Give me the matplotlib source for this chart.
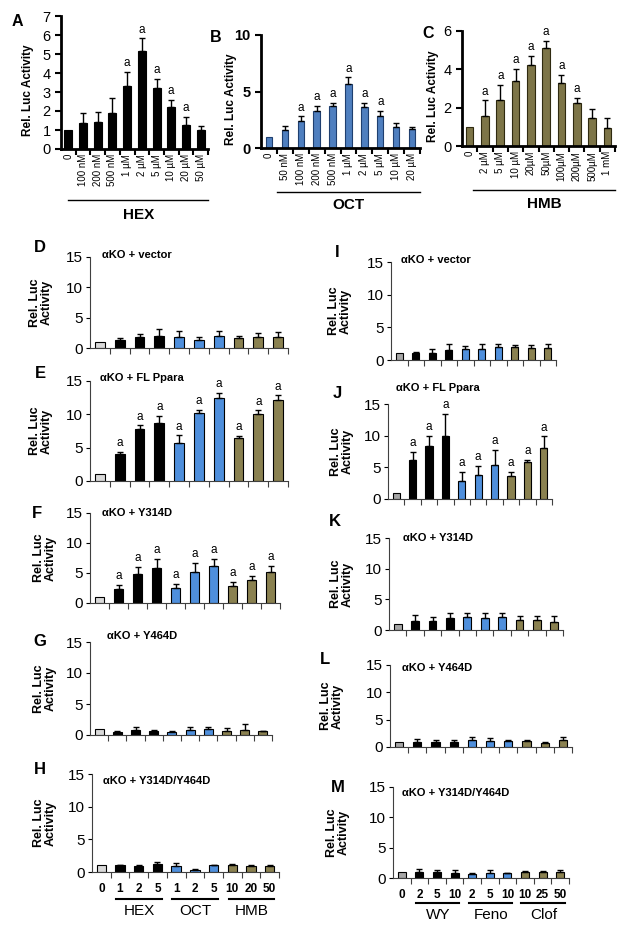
import numpy as np
import matplotlib
matplotlib.use('Agg')
import matplotlib.pyplot as plt

plt.rcParams['font.family'] = ['Liberation Sans', 'DejaVu Sans']

W, H = 629, 935

# ---- top row: dose response ----
hex_doses = ['0', '100 nM', '200 nM', '500 nM', '1 µM', '2 µM', '5 µM', '10 µM', '20 µM', '50 µM']
hex_vals = [1.0, 1.35, 1.44, 1.88, 3.32, 5.18, 3.23, 2.19, 1.26, 1.0]
hex_err = [0, 0.53, 0.49, 0.79, 0.75, 0.64, 0.44, 0.39, 0.44, 0.23]
hex_sig = [4, 5, 6, 7, 8]

oct_doses = ['0', '50 nM', '100 nM', '200 nM', '500 nM', '1 µM', '2 µM', '5 µM', '10 µM', '20 µM']
oct_vals = [1.0, 1.6, 2.35, 3.3, 3.7, 5.65, 3.6, 2.8, 1.85, 1.7]
oct_err = [0, 0.37, 0.45, 0.4, 0.3, 0.6, 0.4, 0.5, 0.35, 0.2]
oct_sig = [2, 3, 4, 5, 6, 7]

hmb_doses = ['0', '2 µM', '5 µM', '10 µM', '20µM', '50µM', '100µM', '200µM', '500µM', '1 mM']
hmb_vals = [1.0, 1.55, 2.38, 3.37, 4.24, 5.13, 3.29, 2.24, 1.46, 0.94]
hmb_err = [0, 0.83, 0.79, 0.66, 0.47, 0.35, 0.43, 0.28, 0.45, 0.54]
hmb_sig = [1, 2, 3, 4, 5, 6, 7]

# ---- left column: HEX / OCT / HMB on mutants ----
left_ticks = ['0', '1', '2', '5', '1', '2', '5', '10', '20', '50']
left_groups = ['HEX', 'OCT', 'HMB']
d_vals = [1.0, 1.37, 1.8, 1.98, 1.8, 1.37, 1.98, 1.6, 1.8, 1.8]
d_err = [0, 0.33, 0.56, 1.1, 1.0, 0.43, 0.77, 0.38, 0.7, 0.8]
e_vals = [1.0, 4.1, 7.85, 8.75, 5.75, 10.15, 12.5, 6.4, 10.0, 12.1]
e_err = [0, 0.3, 0.5, 1.0, 1.1, 0.5, 0.75, 0.35, 0.6, 0.75]
f_vals = [1.0, 2.4, 4.86, 5.8, 2.5, 5.1, 6.24, 2.87, 3.76, 5.1]
f_err = [0, 0.64, 1.14, 1.55, 0.7, 1.6, 1.1, 0.63, 0.8, 1.14]
g_vals = [1.0, 0.55, 0.8, 0.7, 0.55, 0.8, 1.0, 0.7, 0.8, 0.6]
g_err = [0, 0.05, 0.45, 0.1, 0.1, 0.55, 0.35, 0.5, 0.95, 0.1]
h_vals = [1.0, 1.0, 0.86, 1.2, 0.86, 0.35, 1.0, 1.1, 0.96, 0.86]
h_err = [0, 0.1, 0.24, 0.3, 0.51, 0.05, 0.1, 0.17, 0.05, 0.14]

# ---- right column: WY / Feno / Clof ----
right_ticks = ['0', '2', '5', '10', '2', '5', '10', '10', '25', '50']
right_groups = ['WY', 'Feno', 'Clof']
i_vals = [1.0, 1.1, 1.1, 1.52, 1.62, 1.68, 1.93, 1.93, 1.88, 1.78]
i_err = [0, 0.17, 0.58, 0.88, 0.56, 0.72, 0.47, 0.37, 0.42, 0.72]
j_vals = [1.0, 6.1, 8.4, 9.9, 2.9, 3.74, 5.3, 3.7, 5.8, 8.1]
j_err = [0, 1.3, 1.6, 3.5, 1.36, 1.52, 2.4, 0.56, 0.4, 1.8]
k_vals = [1.0, 1.52, 1.52, 1.9, 2.17, 2.0, 2.17, 1.63, 1.63, 1.36]
k_err = [0, 0.93, 0.65, 0.8, 0.66, 0.7, 0.53, 0.65, 0.65, 0.92]
l_vals = [1.0, 1.0, 1.0, 1.0, 1.2, 1.15, 1.15, 1.03, 0.73, 1.2]
l_err = [0, 0.45, 0.2, 0.33, 0.6, 0.42, 0.05, 0.3, 0.12, 0.6]
m_vals = [0.93, 1.0, 1.0, 0.82, 0.7, 0.82, 0.82, 0.93, 0.93, 0.93]
m_err = [0, 0.5, 0.37, 0.44, 0.12, 0.44, 0.05, 0.17, 0.17, 0.33]

all_sig = [1, 2, 3, 4, 5, 6, 7, 8, 9]

BLUE = '#4f8fdc'
OLIVE = '#8a8150'


def px_axes(fig, left, top, right, bottom):
    return fig.add_axes([left / W, 1 - bottom / H, (right - left) / W, (bottom - top) / H])


def ftext(fig, x, y, s, **kw):
    fig.text(x / W, 1 - y / H, s, **kw)


def draw_bars(ax, vals, err, colors, width, sig, edge, cap, afs):
    x = np.arange(len(vals))
    ax.bar(x, vals, width=width, color=colors, edgecolor=edge, linewidth=0.8, zorder=2)
    err = np.array(err)
    m = err > 0
    ax.errorbar(x[m], np.array(vals)[m], yerr=[np.zeros(m.sum()), err[m]], fmt='none',
                ecolor='black', elinewidth=1, capsize=cap, capthick=1, zorder=3)
    for i in sig:
        ax.annotate('a', (x[i], vals[i] + err[i]), xytext=(0, 2), textcoords='offset points',
                    ha='center', va='bottom', fontsize=afs)
    ax.set_xlim(-0.5, len(vals) - 0.5)
    ax.set_xticks(x)
    ax.set_xticks(np.arange(len(vals)) + 0.5, minor=True)
    ax.tick_params(axis='x', which='major', length=0)
    ax.tick_params(axis='x', which='minor', direction='out', length=4)
    for s in ['top', 'right']:
        ax.spines[s].set_visible(False)


fig = plt.figure(figsize=(W / 100, H / 100), dpi=100)

# ---- top panels ----
top_specs = [
    ('A', (61, 16, 208, 149), hex_doses, hex_vals, hex_err, hex_sig, 'black', 'black', 0.55, 7, 1,
     'HEX', (0, 9.5), False, (17, 21), 28),
    ('B', (261, 35, 420, 148), oct_doses, oct_vals, oct_err, oct_sig, '#4f7fbf', '#1f3f6f', 0.4, 10, 5,
     'OCT', (0.5, 9.5), True, (216, 37), 231),
    ('C', (462, 31, 615, 146), hmb_doses, hmb_vals, hmb_err, hmb_sig, '#7d7548', '#2f2a10', 0.5, 6, 2,
     'HMB', (0.2, 9.5), False, (428, 33), 433),
]
for (letter, rect, labels, vals, err, sig, col, edge, width, ytop, ystep,
     group, gspan, boldy, lpos, ylx) in top_specs:
    ax = px_axes(fig, *rect)
    draw_bars(ax, vals, err, col, width, sig, edge, 2, 8.5)
    ax.set_ylim(0, ytop)
    ax.set_yticks(np.arange(0, ytop + 0.1, ystep))
    ax.tick_params(axis='y', direction='out', length=4, width=1.5, labelsize=10.5)
    ax.tick_params(axis='x', which='minor', width=1.5)
    if boldy:
        for t in ax.get_yticklabels():
            t.set_fontweight('bold')
    ax.set_xticklabels(labels, rotation=90, fontsize=7)
    for s in ['left', 'bottom']:
        ax.spines[s].set_linewidth(2)
    tr = ax.get_xaxis_transform()
    ax.plot(gspan, [-0.385, -0.385], color='black', lw=1, transform=tr, clip_on=False)
    ax.text(np.mean(gspan), -0.44, group, transform=tr, ha='center', va='top',
            fontsize=11, fontweight='bold')
    ftext(fig, lpos[0], lpos[1], letter, fontsize=11.5, fontweight='bold', ha='center', va='center')
    ftext(fig, ylx, (rect[1] + rect[3]) / 2 + 8, 'Rel. Luc Activity', rotation=90, fontsize=8.5,
          fontweight='bold', ha='center', va='center')

# ---- lower panels ----
left_colors = ['#d9d9d9'] + ['black'] * 3 + [BLUE] * 3 + [OLIVE] * 3
right_colors = ['#a6a6a6'] + ['black'] * 3 + [BLUE] * 3 + [OLIVE] * 3

low_specs = [
    ('D', (90, 257, 288, 348), d_vals, d_err, [], 'αKO + vector', (40, 248), (102, 255), 41, 'L'),
    ('E', (90, 381, 288, 481), e_vals, e_err, all_sig, 'αKO + FL Ppara', (40, 373), (100, 378), 41, 'L'),
    ('F', (90, 513, 280, 603), f_vals, f_err, all_sig, 'αKO + Y314D', (37, 513), (102, 513), 45, 'L'),
    ('G', (90, 642, 272, 735), g_vals, g_err, [], 'αKO + Y464D', (40, 642), (107, 636), 45, 'L'),
    ('H', (92, 774, 279, 872), h_vals, h_err, [], 'αKO + Y314D/Y464D', (40, 769), (103, 781), 45, 'L'),
    ('I', (391, 262, 556, 360), i_vals, i_err, [], 'αKO + vector', (337, 253), (401, 260), 340, 'R'),
    ('J', (388, 404, 552, 499), j_vals, j_err, all_sig, 'αKO + FL Ppara', (337, 393), (396, 388), 342, 'R'),
    ('K', (389, 538, 563, 630), k_vals, k_err, [], 'αKO + Y314D', (335, 522), (403, 538), 342, 'R'),
    ('L', (390, 665, 572, 747), l_vals, l_err, [], 'αKO + Y464D', (325, 660), (402, 668), 332, 'R'),
    ('M', (393, 787, 569, 878), m_vals, m_err, [], 'αKO + Y314D/Y464D', (338, 787), (402, 793), 338, 'R'),
]
for letter, rect, vals, err, sig, title, lpos, tpos, ylx, side in low_specs:
    ax = px_axes(fig, *rect)
    colors = left_colors if side == 'L' else right_colors
    width = 0.5 if side == 'L' else 0.45
    draw_bars(ax, vals, err, colors, width, sig, 'black', 2, 8.5)
    ax.set_ylim(0, 15)
    ax.set_yticks([0, 5, 10, 15])
    ax.tick_params(axis='y', direction='out', length=3, width=0.8, labelsize=11, pad=2)
    ax.tick_params(axis='x', which='minor', width=0.8, color='#404040')
    for s in ['left', 'bottom']:
        ax.spines[s].set_linewidth(0.8)
        ax.spines[s].set_color('#404040')
    ftext(fig, lpos[0], lpos[1], letter, fontsize=12, fontweight='bold', ha='center', va='center')
    ftext(fig, tpos[0], tpos[1], title, fontsize=8, fontweight='bold', ha='left', va='center')
    ftext(fig, ylx, (rect[1] + rect[3]) / 2, 'Rel. Luc\nActivity', rotation=90, fontsize=9,
          fontweight='bold', ha='center', va='center', multialignment='center', linespacing=1.0)
    if letter in ('H', 'M'):
        ticks = left_ticks if side == 'L' else right_ticks
        groups = left_groups if side == 'L' else right_groups
        ax.set_xticklabels(ticks, fontsize=8.5, fontweight='bold')
        ax.tick_params(axis='x', which='major', pad=8)
        tr = ax.get_xaxis_transform()
        for g, name in enumerate(groups):
            a, b = 1 + 3 * g, 3 + 3 * g
            ax.plot([a - 0.2, b + 0.25], [-0.28, -0.28], color='black', lw=1.5,
                    transform=tr, clip_on=False)
            ax.text((a + b) / 2 + 0.05, -0.33, name, transform=tr, ha='center', va='top', fontsize=11)
    else:
        ax.set_xticklabels([])

fig.savefig('out.png', dpi=100)
